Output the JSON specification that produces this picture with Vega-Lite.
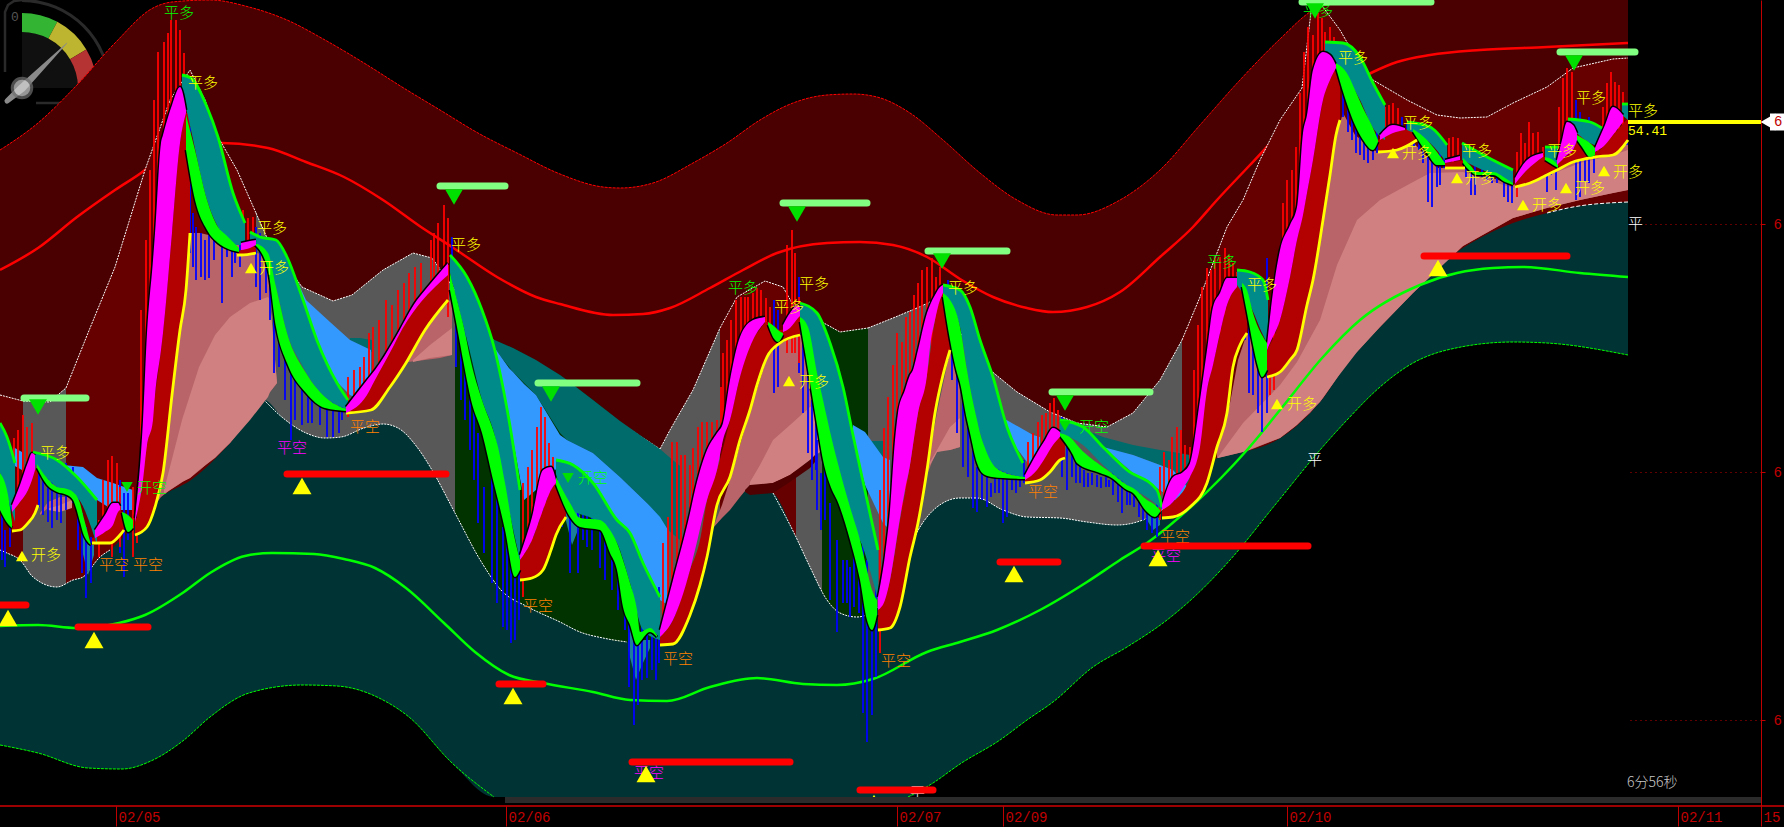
{"$schema":"https://vega.github.io/schema/vega-lite/v6.json","width":1761,"height":806,"autosize":{"type":"none"},"padding":{"left":0,"top":0,"right":23,"bottom":21},"background":"#000000","config":{"view":{"stroke":null},"text":{"font":"Noto Sans CJK SC","fontSize":15,"fontWeight":300,"align":"left","baseline":"middle"}},
"datasets":{
"outerTop":[{"x":0,"y":150},{"x":38,"y":123},{"x":77,"y":85},{"x":115,"y":43},{"x":153,"y":8},{"x":172,"y":2},{"x":210,"y":0},{"x":249,"y":7},{"x":287,"y":20},{"x":325,"y":40},{"x":364,"y":63},{"x":402,"y":87},{"x":440,"y":110},{"x":478,"y":133},{"x":517,"y":153},{"x":560,"y":174},{"x":603,"y":187},{"x":620,"y":188},{"x":653,"y":183},{"x":693,"y":163},{"x":727,"y":143},{"x":760,"y":120},{"x":793,"y":103},{"x":827,"y":95},{"x":853,"y":94},{"x":877,"y":97},{"x":910,"y":113},{"x":943,"y":140},{"x":980,"y":173},{"x":1017,"y":200},{"x":1057,"y":215},{"x":1077,"y":215},{"x":1120,"y":200},{"x":1160,"y":170},{"x":1200,"y":125},{"x":1240,"y":80},{"x":1280,"y":39},{"x":1313,"y":10},{"x":1340,"y":0},{"x":1628,"y":0}],
"midRed":[{"x":0,"y":270},{"x":38,"y":248},{"x":77,"y":217},{"x":115,"y":190},{"x":145,"y":170},{"x":157,"y":160},{"x":190,"y":146},{"x":222,"y":143},{"x":268,"y":148},{"x":306,"y":162},{"x":344,"y":177},{"x":383,"y":200},{"x":421,"y":227},{"x":452,"y":247},{"x":497,"y":277},{"x":536,"y":297},{"x":560,"y":304},{"x":613,"y":315},{"x":643,"y":314},{"x":670,"y":308},{"x":710,"y":288},{"x":743,"y":270},{"x":777,"y":253},{"x":827,"y":243},{"x":860,"y":242},{"x":893,"y":245},{"x":927,"y":257},{"x":960,"y":279},{"x":993,"y":297},{"x":1027,"y":308},{"x":1053,"y":312},{"x":1087,"y":307},{"x":1120,"y":292},{"x":1160,"y":257},{"x":1193,"y":227},{"x":1217,"y":200},{"x":1250,"y":165},{"x":1280,"y":133},{"x":1300,"y":113},{"x":1340,"y":90},{"x":1373,"y":72},{"x":1397,"y":62},{"x":1430,"y":55},{"x":1480,"y":50},{"x":1547,"y":47},{"x":1628,"y":43}],
"cloud":[{"s":1,"r":"red","x":0,"y":395},{"s":1,"r":"red","x":23,"y":401},{"s":2,"r":"gray","x":23,"y":401},{"s":2,"r":"gray","x":50,"y":402},{"s":2,"r":"gray","x":60,"y":393},{"s":2,"r":"gray","x":66,"y":388},{"s":3,"r":"red","x":66,"y":388},{"s":3,"r":"red","x":88,"y":333},{"s":3,"r":"red","x":115,"y":267},{"s":3,"r":"red","x":145,"y":170},{"s":3,"r":"red","x":170,"y":100},{"s":3,"r":"red","x":190,"y":70},{"s":3,"r":"red","x":205,"y":100},{"s":3,"r":"red","x":218,"y":137},{"s":3,"r":"red","x":237,"y":170},{"s":3,"r":"red","x":256,"y":213},{"s":4,"r":"gray","x":256,"y":213},{"s":4,"r":"gray","x":268,"y":240},{"s":4,"r":"gray","x":302,"y":287},{"s":4,"r":"gray","x":333,"y":301},{"s":4,"r":"gray","x":352,"y":295},{"s":4,"r":"gray","x":383,"y":270},{"s":4,"r":"gray","x":413,"y":253},{"s":4,"r":"gray","x":432,"y":258},{"s":4,"r":"gray","x":455,"y":290},{"s":5,"r":"green","x":455,"y":290},{"s":5,"r":"green","x":470,"y":310},{"s":5,"r":"green","x":490,"y":338},{"s":5,"r":"green","x":517,"y":350},{"s":5,"r":"green","x":560,"y":375},{"s":5,"r":"green","x":593,"y":400},{"s":5,"r":"green","x":627,"y":427},{"s":5,"r":"green","x":660,"y":449},{"s":6,"r":"gray","x":660,"y":449},{"s":6,"r":"gray","x":670,"y":430},{"s":6,"r":"gray","x":693,"y":390},{"s":6,"r":"gray","x":720,"y":328},{"s":7,"r":"red","x":720,"y":328},{"s":7,"r":"red","x":737,"y":297},{"s":7,"r":"red","x":765,"y":281},{"s":7,"r":"red","x":783,"y":287},{"s":7,"r":"red","x":796,"y":310},{"s":8,"r":"gray","x":796,"y":310},{"s":8,"r":"gray","x":822,"y":322},{"s":9,"r":"green","x":822,"y":322},{"s":9,"r":"green","x":840,"y":332},{"s":9,"r":"green","x":868,"y":328},{"s":10,"r":"gray","x":868,"y":328},{"s":10,"r":"gray","x":893,"y":318},{"s":10,"r":"gray","x":917,"y":308},{"s":10,"r":"gray","x":930,"y":302},{"s":10,"r":"gray","x":950,"y":320},{"s":10,"r":"gray","x":970,"y":345},{"s":10,"r":"gray","x":990,"y":370},{"s":10,"r":"gray","x":1017,"y":392},{"s":10,"r":"gray","x":1050,"y":412},{"s":10,"r":"gray","x":1077,"y":423},{"s":10,"r":"gray","x":1107,"y":427},{"s":10,"r":"gray","x":1133,"y":413},{"s":10,"r":"gray","x":1160,"y":380},{"s":10,"r":"gray","x":1182,"y":340},{"s":11,"r":"red","x":1182,"y":340},{"s":11,"r":"red","x":1200,"y":297},{"s":11,"r":"red","x":1227,"y":227},{"s":11,"r":"red","x":1243,"y":200},{"s":11,"r":"red","x":1260,"y":160},{"s":11,"r":"red","x":1280,"y":120},{"s":11,"r":"red","x":1302,"y":88},{"s":11,"r":"red","x":1311,"y":12},{"s":11,"r":"red","x":1320,"y":3},{"s":11,"r":"red","x":1340,"y":30},{"s":11,"r":"red","x":1360,"y":65},{"s":11,"r":"red","x":1373,"y":80},{"s":11,"r":"red","x":1407,"y":100},{"s":11,"r":"red","x":1437,"y":115},{"s":11,"r":"red","x":1460,"y":118},{"s":11,"r":"red","x":1487,"y":117},{"s":11,"r":"red","x":1513,"y":103},{"s":11,"r":"red","x":1547,"y":87},{"s":11,"r":"red","x":1573,"y":68},{"s":11,"r":"red","x":1613,"y":59},{"s":11,"r":"red","x":1628,"y":58}],
"lowerWhite":[{"x":0,"y":550},{"x":7,"y":553},{"x":20,"y":560},{"x":33,"y":577},{"x":57,"y":587},{"x":73,"y":580},{"x":83,"y":577},{"x":100,"y":557},{"x":110,"y":550},{"x":130,"y":530},{"x":161,"y":497},{"x":191,"y":480},{"x":230,"y":443},{"x":264,"y":400},{"x":283,"y":418},{"x":306,"y":433},{"x":325,"y":438},{"x":341,"y":437},{"x":364,"y":428},{"x":383,"y":424},{"x":398,"y":428},{"x":417,"y":447},{"x":432,"y":470},{"x":455,"y":513},{"x":482,"y":563},{"x":501,"y":590},{"x":528,"y":607},{"x":560,"y":622},{"x":580,"y":632},{"x":603,"y":638},{"x":627,"y":642},{"x":650,"y":640},{"x":670,"y":620},{"x":690,"y":570},{"x":713,"y":528},{"x":740,"y":497},{"x":750,"y":485},{"x":773,"y":493},{"x":795,"y":535},{"x":810,"y":567},{"x":827,"y":600},{"x":840,"y":613},{"x":857,"y":617},{"x":880,"y":605},{"x":900,"y":570},{"x":920,"y":527},{"x":937,"y":507},{"x":960,"y":498},{"x":977,"y":498},{"x":1003,"y":510},{"x":1027,"y":517},{"x":1060,"y":518},{"x":1087,"y":522},{"x":1117,"y":525},{"x":1137,"y":522},{"x":1157,"y":513},{"x":1185,"y":490},{"x":1217,"y":458},{"x":1243,"y":452},{"x":1277,"y":440},{"x":1300,"y":423},{"x":1320,"y":402},{"x":1347,"y":363},{"x":1380,"y":327},{"x":1413,"y":293},{"x":1457,"y":252},{"x":1480,"y":238},{"x":1513,"y":223},{"x":1547,"y":213},{"x":1573,"y":207},{"x":1628,"y":202}],
"outerLow":[{"x":0,"y":745},{"x":38,"y":753},{"x":88,"y":768},{"x":122,"y":769},{"x":153,"y":760},{"x":184,"y":740},{"x":210,"y":717},{"x":249,"y":693},{"x":302,"y":685},{"x":337,"y":686},{"x":383,"y":700},{"x":409,"y":717},{"x":452,"y":763},{"x":494,"y":797},{"x":908,"y":797},{"x":933,"y":783},{"x":960,"y":764},{"x":1000,"y":740},{"x":1027,"y":720},{"x":1053,"y":702},{"x":1093,"y":667},{"x":1127,"y":647},{"x":1167,"y":620},{"x":1193,"y":598},{"x":1230,"y":560},{"x":1275,"y":505},{"x":1320,"y":450},{"x":1347,"y":420},{"x":1380,"y":387},{"x":1413,"y":363},{"x":1447,"y":350},{"x":1513,"y":342},{"x":1547,"y":343},{"x":1628,"y":355}],
"midGreen":[{"x":0,"y":626},{"x":38,"y":625},{"x":77,"y":628},{"x":119,"y":623},{"x":145,"y":615},{"x":184,"y":592},{"x":210,"y":573},{"x":245,"y":556},{"x":272,"y":553},{"x":314,"y":554},{"x":344,"y":559},{"x":375,"y":568},{"x":406,"y":588},{"x":444,"y":623},{"x":475,"y":652},{"x":509,"y":675},{"x":543,"y":683},{"x":593,"y":692},{"x":630,"y":700},{"x":667,"y":701},{"x":710,"y":687},{"x":757,"y":678},{"x":803,"y":684},{"x":837,"y":685},{"x":873,"y":679},{"x":927,"y":652},{"x":960,"y":642},{"x":997,"y":630},{"x":1040,"y":610},{"x":1087,"y":582},{"x":1120,"y":560},{"x":1147,"y":543},{"x":1193,"y":505},{"x":1247,"y":450},{"x":1280,"y":410},{"x":1323,"y":357},{"x":1360,"y":320},{"x":1420,"y":285},{"x":1457,"y":273},{"x":1493,"y":268},{"x":1523,"y":267},{"x":1580,"y":273},{"x":1628,"y":277}],
"pinkDark":[{"s":1,"x":40,"y":513,"y2":515},{"s":1,"x":48,"y":502,"y2":508},{"s":1,"x":60,"y":497,"y2":505},{"s":1,"x":72,"y":497,"y2":503},
{"s":2,"x":155,"y":505,"y2":505},{"s":2,"x":161,"y":475,"y2":497},{"s":2,"x":170,"y":420,"y2":490},{"s":2,"x":178,"y":340,"y2":485},{"s":2,"x":184,"y":300,"y2":481},{"s":2,"x":190,"y":233,"y2":478},{"s":2,"x":200,"y":233,"y2":470},{"s":2,"x":230,"y":240,"y2":443},{"s":2,"x":256,"y":253,"y2":410},{"s":2,"x":268,"y":255,"y2":395},{"s":2,"x":270,"y":300,"y2":392},{"s":2,"x":277,"y":383,"y2":383},
{"s":3,"x":408,"y":358,"y2":362},{"s":3,"x":425,"y":330,"y2":360},{"s":3,"x":440,"y":312,"y2":358},{"s":3,"x":452,"y":298,"y2":355},
{"s":4,"x":713,"y":528,"y2":528},{"s":4,"x":722,"y":505,"y2":518},{"s":4,"x":730,"y":480,"y2":510},{"s":4,"x":740,"y":445,"y2":497},{"s":4,"x":750,"y":410,"y2":485},{"s":4,"x":760,"y":380,"y2":484},{"s":4,"x":767,"y":357,"y2":483},{"s":4,"x":780,"y":343,"y2":480},{"s":4,"x":800,"y":335,"y2":468},{"s":4,"x":815,"y":335,"y2":455},
{"s":5,"x":925,"y":480,"y2":480},{"s":5,"x":932,"y":440,"y2":462},{"s":5,"x":937,"y":413,"y2":452},{"s":5,"x":945,"y":375,"y2":450},{"s":5,"x":950,"y":350,"y2":450},{"s":5,"x":960,"y":345,"y2":447},
{"s":6,"x":1217,"y":447,"y2":458},{"s":6,"x":1230,"y":403,"y2":455},{"s":6,"x":1238,"y":360,"y2":453},{"s":6,"x":1247,"y":333,"y2":451},{"s":6,"x":1255,"y":345,"y2":448},{"s":6,"x":1265,"y":377,"y2":444},{"s":6,"x":1280,"y":373,"y2":438},{"s":6,"x":1293,"y":355,"y2":428},{"s":6,"x":1310,"y":290,"y2":413},{"s":6,"x":1323,"y":220,"y2":398},{"s":6,"x":1337,"y":133,"y2":378},{"s":6,"x":1343,"y":113,"y2":368},{"s":6,"x":1355,"y":135,"y2":354},{"s":6,"x":1377,"y":152,"y2":330},{"s":6,"x":1413,"y":142,"y2":293},{"s":6,"x":1437,"y":168,"y2":270},{"s":6,"x":1463,"y":168,"y2":246},{"s":6,"x":1513,"y":185,"y2":218},{"s":6,"x":1547,"y":173,"y2":208},{"s":6,"x":1580,"y":160,"y2":200},{"s":6,"x":1613,"y":152,"y2":193},{"s":6,"x":1628,"y":140,"y2":190}],
"pinkLight":[{"s":1,"x":164,"y":490,"y2":494},{"s":1,"x":182,"y":420,"y2":482},{"s":1,"x":190,"y":395,"y2":478},{"s":1,"x":199,"y":367,"y2":470},{"s":1,"x":215,"y":335,"y2":458},{"s":1,"x":230,"y":317,"y2":443},{"s":1,"x":250,"y":303,"y2":420},{"s":1,"x":268,"y":297,"y2":397},{"s":1,"x":270,"y":300,"y2":392},{"s":1,"x":277,"y":383,"y2":383},
{"s":2,"x":413,"y":360,"y2":362},{"s":2,"x":430,"y":345,"y2":358},{"s":2,"x":452,"y":328,"y2":355},
{"s":3,"x":750,"y":482,"y2":485},{"s":3,"x":760,"y":465,"y2":485},{"s":3,"x":773,"y":440,"y2":483},{"s":3,"x":790,"y":425,"y2":475},{"s":3,"x":810,"y":407,"y2":460},{"s":3,"x":820,"y":400,"y2":452},
{"s":4,"x":930,"y":462,"y2":465},{"s":4,"x":937,"y":450,"y2":452},{"s":4,"x":950,"y":427,"y2":450},{"s":4,"x":960,"y":418,"y2":447},
{"s":5,"x":48,"y":508,"y2":510},{"s":5,"x":60,"y":505,"y2":512},{"s":5,"x":72,"y":500,"y2":508},
{"s":6,"x":1218,"y":457,"y2":458},{"s":6,"x":1243,"y":423,"y2":452},{"s":6,"x":1280,"y":385,"y2":438},{"s":6,"x":1297,"y":362,"y2":425},{"s":6,"x":1320,"y":320,"y2":402},{"s":6,"x":1337,"y":265,"y2":378},{"s":6,"x":1357,"y":220,"y2":352},{"s":6,"x":1380,"y":200,"y2":327},{"s":6,"x":1413,"y":182,"y2":293},{"s":6,"x":1430,"y":173,"y2":277},{"s":6,"x":1463,"y":172,"y2":246},{"s":6,"x":1513,"y":188,"y2":218},{"s":6,"x":1547,"y":176,"y2":208},{"s":6,"x":1580,"y":163,"y2":200},{"s":6,"x":1613,"y":155,"y2":193},{"s":6,"x":1628,"y":150,"y2":190}],
"wedge":[{"x":745,"y":490,"y2":492},{"x":750,"y":485,"y2":495},{"x":773,"y":483,"y2":493},{"x":790,"y":475,"y2":482},{"x":810,"y":460,"y2":468},{"x":815,"y":455,"y2":462}],
"darkTeal":[{"s":1,"x":350,"y":338,"y2":340},{"s":1,"x":360,"y":338,"y2":345},{"s":1,"x":372,"y":340,"y2":352},
{"s":2,"x":490,"y":338,"y2":343},{"s":2,"x":513,"y":348,"y2":372},{"s":2,"x":536,"y":360,"y2":395},{"s":2,"x":560,"y":375,"y2":433},{"s":2,"x":567,"y":380,"y2":440},{"s":2,"x":593,"y":400,"y2":453},{"s":2,"x":620,"y":421,"y2":477},{"s":2,"x":647,"y":440,"y2":503},{"s":2,"x":660,"y":449,"y2":520},{"s":2,"x":668,"y":456,"y2":530},{"s":2,"x":680,"y":466,"y2":540},
{"s":3,"x":867,"y":441,"y2":445},{"s":3,"x":875,"y":441,"y2":455},{"s":3,"x":885,"y":441,"y2":465},
{"s":4,"x":1063,"y":423,"y2":427},{"s":4,"x":1093,"y":433,"y2":445},{"s":4,"x":1103,"y":437,"y2":448},{"s":4,"x":1133,"y":445,"y2":455},{"s":4,"x":1160,"y":450,"y2":465},{"s":4,"x":1173,"y":452,"y2":470},{"s":4,"x":1190,"y":455,"y2":490}],
"blue":[{"s":1,"x":13,"y":447,"y2":465},{"s":1,"x":22,"y":452,"y2":470},
{"s":2,"x":63,"y":465,"y2":465},{"s":2,"x":83,"y":467,"y2":483},{"s":2,"x":97,"y":478,"y2":500},{"s":2,"x":113,"y":483,"y2":510},{"s":2,"x":133,"y":490,"y2":510},
{"s":3,"x":298,"y":283,"y2":284},{"s":3,"x":306,"y":300,"y2":310},{"s":3,"x":330,"y":322,"y2":375},{"s":3,"x":350,"y":340,"y2":395},{"s":3,"x":371,"y":350,"y2":405},
{"s":4,"x":494,"y":347,"y2":347},{"s":4,"x":509,"y":368,"y2":420},{"s":4,"x":513,"y":372,"y2":440},{"s":4,"x":524,"y":384,"y2":500},{"s":4,"x":536,"y":395,"y2":490},{"s":4,"x":560,"y":435,"y2":465},{"s":4,"x":567,"y":440,"y2":465},{"s":4,"x":593,"y":453,"y2":485},{"s":4,"x":620,"y":477,"y2":525},{"s":4,"x":647,"y":503,"y2":575},{"s":4,"x":660,"y":517,"y2":600},{"s":4,"x":668,"y":530,"y2":605},
{"s":5,"x":853,"y":425,"y2":440},{"s":5,"x":865,"y":432,"y2":485},{"s":5,"x":883,"y":457,"y2":523},{"s":5,"x":890,"y":460,"y2":530},
{"s":6,"x":1003,"y":418,"y2":430},{"s":6,"x":1033,"y":435,"y2":470},{"s":6,"x":1040,"y":437,"y2":455},
{"s":7,"x":1103,"y":447,"y2":447},{"s":7,"x":1133,"y":455,"y2":473},{"s":7,"x":1160,"y":465,"y2":490},{"s":7,"x":1173,"y":470,"y2":500},{"s":7,"x":1190,"y":490,"y2":500}],
"shadow":[{"s":1,"x":628,"y":620,"y2":650},{"s":1,"x":636,"y":640,"y2":680},{"s":1,"x":642,"y":640,"y2":665},{"s":1,"x":650,"y":640,"y2":648},{"s":2,"x":82,"y":530,"y2":550},{"s":2,"x":88,"y":545,"y2":575},{"s":2,"x":94,"y":545,"y2":555},{"s":3,"x":1147,"y":510,"y2":520},{"s":3,"x":1153,"y":517,"y2":530},{"s":3,"x":1160,"y":518,"y2":525},{"s":4,"x":562,"y":480,"y2":505},{"s":4,"x":572,"y":505,"y2":545},{"s":4,"x":580,"y":515,"y2":525}],
"darkRed":[{"s":1,"x":12,"y":512,"y2":531},{"s":1,"x":20,"y":502,"y2":530},{"s":1,"x":28,"y":490,"y2":523},{"s":1,"x":35,"y":470,"y2":513},{"s":1,"x":38,"y":468,"y2":505},
{"s":2,"x":92,"y":538,"y2":543},{"s":2,"x":110,"y":527,"y2":543},{"s":2,"x":120,"y":510,"y2":535},{"s":2,"x":124,"y":520,"y2":530},
{"s":3,"x":135,"y":522,"y2":535},{"s":3,"x":147,"y":445,"y2":527},{"s":3,"x":155,"y":395,"y2":507},{"s":3,"x":163,"y":333,"y2":473},{"s":3,"x":172,"y":233,"y2":395},{"s":3,"x":180,"y":143,"y2":330},{"s":3,"x":186,"y":113,"y2":290},{"s":3,"x":190,"y":113,"y2":233},
{"s":4,"x":237,"y":252,"y2":255},{"s":4,"x":241,"y":250,"y2":255},{"s":4,"x":256,"y":245,"y2":253},
{"s":5,"x":346,"y":413,"y2":413},{"s":5,"x":371,"y":385,"y2":410},{"s":5,"x":390,"y":345,"y2":387},{"s":5,"x":406,"y":318,"y2":363},{"s":5,"x":425,"y":290,"y2":330},{"s":5,"x":448,"y":275,"y2":300},
{"s":6,"x":520,"y":560,"y2":580},{"s":6,"x":532,"y":540,"y2":578},{"s":6,"x":543,"y":510,"y2":570},{"s":6,"x":551,"y":490,"y2":550},{"s":6,"x":556,"y":483,"y2":535},{"s":6,"x":566,"y":490,"y2":517},
{"s":7,"x":660,"y":637,"y2":645},{"s":7,"x":673,"y":620,"y2":644},{"s":7,"x":690,"y":570,"y2":615},{"s":7,"x":700,"y":540,"y2":585},{"s":7,"x":707,"y":500,"y2":557},{"s":7,"x":717,"y":470,"y2":505},{"s":7,"x":730,"y":420,"y2":477},{"s":7,"x":740,"y":377,"y2":440},{"s":7,"x":750,"y":340,"y2":410},{"s":7,"x":757,"y":333,"y2":385},{"s":7,"x":767,"y":322,"y2":357},{"s":7,"x":780,"y":330,"y2":343},{"s":7,"x":800,"y":316,"y2":335},
{"s":8,"x":878,"y":610,"y2":630},{"s":8,"x":890,"y":580,"y2":628},{"s":8,"x":900,"y":520,"y2":607},{"s":8,"x":910,"y":465,"y2":557},{"s":8,"x":918,"y":413,"y2":523},{"s":8,"x":927,"y":375,"y2":470},{"s":8,"x":935,"y":320,"y2":413},{"s":8,"x":943,"y":293,"y2":375},{"s":8,"x":950,"y":293,"y2":350},
{"s":9,"x":1025,"y":480,"y2":483},{"s":9,"x":1040,"y":463,"y2":480},{"s":9,"x":1050,"y":445,"y2":472},{"s":9,"x":1060,"y":437,"y2":460},{"s":9,"x":1065,"y":445,"y2":458},
{"s":10,"x":1162,"y":510,"y2":518},{"s":10,"x":1173,"y":502,"y2":517},{"s":10,"x":1190,"y":477,"y2":507},{"s":10,"x":1207,"y":390,"y2":483},{"s":10,"x":1217,"y":347,"y2":447},{"s":10,"x":1227,"y":305,"y2":413},{"s":10,"x":1233,"y":290,"y2":367},{"s":10,"x":1240,"y":280,"y2":345},{"s":10,"x":1247,"y":300,"y2":333},
{"s":11,"x":1267,"y":350,"y2":377},{"s":11,"x":1280,"y":320,"y2":372},{"s":11,"x":1290,"y":277,"y2":360},{"s":11,"x":1297,"y":240,"y2":350},{"s":11,"x":1307,"y":193,"y2":305},{"s":11,"x":1313,"y":160,"y2":280},{"s":11,"x":1323,"y":100,"y2":220},{"s":11,"x":1330,"y":75,"y2":175},{"s":11,"x":1336,"y":65,"y2":135},{"s":11,"x":1340,"y":65,"y2":120},
{"s":12,"x":1378,"y":140,"y2":152},{"s":12,"x":1397,"y":131,"y2":150},{"s":12,"x":1417,"y":128,"y2":140},
{"s":13,"x":1445,"y":163,"y2":168},{"s":13,"x":1465,"y":160,"y2":168},
{"s":14,"x":1515,"y":184,"y2":187},{"s":14,"x":1527,"y":170,"y2":184},{"s":14,"x":1543,"y":157,"y2":177},{"s":14,"x":1557,"y":160,"y2":170},{"s":14,"x":1573,"y":150,"y2":162},{"s":14,"x":1580,"y":135,"y2":160},{"s":14,"x":1595,"y":152,"y2":157},{"s":14,"x":1613,"y":135,"y2":155},{"s":14,"x":1628,"y":118,"y2":140}],
"tealFill":[{"s":1,"x":0,"y":423,"y2":473},{"s":1,"x":7,"y":437,"y2":495},{"s":1,"x":15,"y":463,"y2":522},
{"s":2,"x":33,"y":452,"y2":462},{"s":2,"x":57,"y":460,"y2":487},{"s":2,"x":77,"y":477,"y2":497},{"s":2,"x":97,"y":500,"y2":545},
{"s":3,"x":182,"y":75,"y2":90},{"s":3,"x":191,"y":78,"y2":130},{"s":3,"x":207,"y":107,"y2":200},{"s":3,"x":218,"y":137,"y2":227},{"s":3,"x":233,"y":193,"y2":245},{"s":3,"x":245,"y":223,"y2":245},
{"s":4,"x":250,"y":232,"y2":240},{"s":4,"x":260,"y":237,"y2":247},{"s":4,"x":276,"y":240,"y2":287},{"s":4,"x":287,"y":257,"y2":333},{"s":4,"x":302,"y":297,"y2":365},{"s":4,"x":318,"y":343,"y2":390},{"s":4,"x":337,"y":383,"y2":405},{"s":4,"x":348,"y":400,"y2":409},
{"s":5,"x":450,"y":255,"y2":273},{"s":5,"x":467,"y":277,"y2":340},{"s":5,"x":482,"y":310,"y2":400},{"s":5,"x":494,"y":347,"y2":433},{"s":5,"x":509,"y":420,"y2":510},{"s":5,"x":520,"y":490,"y2":560},
{"s":6,"x":556,"y":460,"y2":477},{"s":6,"x":573,"y":465,"y2":510},{"s":6,"x":593,"y":483,"y2":519},{"s":6,"x":617,"y":520,"y2":543},{"s":6,"x":630,"y":533,"y2":583},{"s":6,"x":643,"y":563,"y2":630},{"s":6,"x":660,"y":597,"y2":640},
{"s":7,"x":800,"y":303,"y2":317},{"s":7,"x":817,"y":313,"y2":373},{"s":7,"x":830,"y":343,"y2":440},{"s":7,"x":843,"y":387,"y2":485},{"s":7,"x":853,"y":435,"y2":525},{"s":7,"x":862,"y":477,"y2":545},{"s":7,"x":878,"y":550,"y2":600},
{"s":8,"x":943,"y":285,"y2":293},{"s":8,"x":960,"y":290,"y2":327},{"s":8,"x":970,"y":307,"y2":387},{"s":8,"x":980,"y":340,"y2":433},{"s":8,"x":993,"y":377,"y2":465},{"s":8,"x":1007,"y":427,"y2":473},{"s":8,"x":1023,"y":463,"y2":477},
{"s":9,"x":1060,"y":420,"y2":433},{"s":9,"x":1083,"y":427,"y2":445},{"s":9,"x":1103,"y":447,"y2":465},{"s":9,"x":1127,"y":470,"y2":485},{"s":9,"x":1157,"y":490,"y2":505},{"s":9,"x":1162,"y":507,"y2":510},
{"s":10,"x":1237,"y":270,"y2":285},{"s":10,"x":1250,"y":272,"y2":305},{"s":10,"x":1263,"y":280,"y2":335},{"s":10,"x":1268,"y":300,"y2":345},
{"s":11,"x":1325,"y":42,"y2":55},{"s":11,"x":1343,"y":43,"y2":72},{"s":11,"x":1360,"y":57,"y2":100},{"s":11,"x":1373,"y":83,"y2":128},{"s":11,"x":1385,"y":105,"y2":140},
{"s":12,"x":1407,"y":122,"y2":130},{"s":12,"x":1430,"y":127,"y2":143},{"s":12,"x":1447,"y":145,"y2":163},
{"s":13,"x":1462,"y":143,"y2":160},{"s":13,"x":1487,"y":157,"y2":172},{"s":13,"x":1513,"y":170,"y2":183},
{"s":14,"x":1545,"y":147,"y2":157},{"s":14,"x":1558,"y":147,"y2":165},
{"s":15,"x":1568,"y":119,"y2":125},{"s":15,"x":1590,"y":122,"y2":143},{"s":15,"x":1602,"y":128,"y2":148},
{"s":16,"x":1622,"y":104,"y2":115},{"s":16,"x":1628,"y":104,"y2":120}],
"lime":[{"s":1,"x":0,"y":473,"y2":510},{"s":1,"x":8,"y":495,"y2":524},{"s":1,"x":12,"y":522,"y2":528},
{"s":2,"x":37,"y":464,"y2":468},{"s":2,"x":47,"y":478,"y2":485},{"s":2,"x":57,"y":487,"y2":492},{"s":2,"x":67,"y":489,"y2":495},{"s":2,"x":73,"y":492,"y2":500},{"s":2,"x":80,"y":503,"y2":522},{"s":2,"x":83,"y":515,"y2":533},{"s":2,"x":87,"y":530,"y2":541},{"s":2,"x":91,"y":545,"y2":545},
{"s":3,"x":122,"y":512,"y2":513},{"s":3,"x":128,"y":515,"y2":532},{"s":3,"x":133,"y":520,"y2":528},
{"s":4,"x":186,"y":115,"y2":150},{"s":4,"x":195,"y":150,"y2":200},{"s":4,"x":207,"y":200,"y2":230},{"s":4,"x":218,"y":227,"y2":243},{"s":4,"x":226,"y":235,"y2":248},{"s":4,"x":239,"y":248,"y2":252},
{"s":5,"x":255,"y":243,"y2":245},{"s":5,"x":268,"y":253,"y2":270},{"s":5,"x":276,"y":287,"y2":327},{"s":5,"x":287,"y":333,"y2":363},{"s":5,"x":306,"y":373,"y2":393},{"s":5,"x":325,"y":397,"y2":408},{"s":5,"x":346,"y":409,"y2":411},
{"s":6,"x":450,"y":273,"y2":290},{"s":6,"x":457,"y":300,"y2":327},{"s":6,"x":464,"y":328,"y2":365},{"s":6,"x":471,"y":362,"y2":400},{"s":6,"x":482,"y":400,"y2":433},{"s":6,"x":494,"y":433,"y2":484},{"s":6,"x":498,"y":447,"y2":500},{"s":6,"x":505,"y":483,"y2":530},{"s":6,"x":515,"y":540,"y2":577},{"s":6,"x":520,"y":560,"y2":570},
{"s":7,"x":556,"y":477,"y2":485},{"s":7,"x":570,"y":503,"y2":517},{"s":7,"x":580,"y":518,"y2":527},{"s":7,"x":600,"y":520,"y2":530},{"s":7,"x":610,"y":530,"y2":553},{"s":7,"x":617,"y":543,"y2":570},{"s":7,"x":623,"y":560,"y2":607},{"s":7,"x":630,"y":583,"y2":625},{"s":7,"x":637,"y":610,"y2":645},{"s":7,"x":640,"y":632,"y2":642},{"s":7,"x":650,"y":628,"y2":632},{"s":7,"x":657,"y":635,"y2":637},
{"s":8,"x":768,"y":322,"y2":325},{"s":8,"x":775,"y":327,"y2":340},{"s":8,"x":778,"y":330,"y2":342},{"s":8,"x":783,"y":333,"y2":335},
{"s":9,"x":800,"y":317,"y2":322},{"s":9,"x":808,"y":327,"y2":370},{"s":9,"x":817,"y":373,"y2":425},{"s":9,"x":823,"y":400,"y2":460},{"s":9,"x":832,"y":440,"y2":490},{"s":9,"x":837,"y":460,"y2":500},{"s":9,"x":850,"y":507,"y2":540},{"s":9,"x":860,"y":540,"y2":580},{"s":9,"x":867,"y":570,"y2":620},{"s":9,"x":872,"y":590,"y2":630},{"s":9,"x":877,"y":600,"y2":615},
{"s":10,"x":943,"y":293,"y2":297},{"s":10,"x":950,"y":300,"y2":340},{"s":10,"x":957,"y":315,"y2":373},{"s":10,"x":960,"y":327,"y2":383},{"s":10,"x":967,"y":370,"y2":420},{"s":10,"x":970,"y":387,"y2":433},{"s":10,"x":977,"y":420,"y2":463},{"s":10,"x":980,"y":433,"y2":470},{"s":10,"x":985,"y":448,"y2":475},{"s":10,"x":992,"y":463,"y2":477},{"s":10,"x":1003,"y":472,"y2":478},{"s":10,"x":1025,"y":477,"y2":479},
{"s":11,"x":1060,"y":433,"y2":436},{"s":11,"x":1073,"y":440,"y2":455},{"s":11,"x":1077,"y":445,"y2":463},{"s":11,"x":1100,"y":465,"y2":473},{"s":11,"x":1110,"y":472,"y2":477},{"s":11,"x":1127,"y":485,"y2":490},{"s":11,"x":1133,"y":488,"y2":493},{"s":11,"x":1147,"y":500,"y2":512},{"s":11,"x":1155,"y":505,"y2":517},{"s":11,"x":1160,"y":510,"y2":512},
{"s":12,"x":1242,"y":283,"y2":287},{"s":12,"x":1247,"y":290,"y2":313},{"s":12,"x":1253,"y":313,"y2":345},{"s":12,"x":1258,"y":327,"y2":367},{"s":12,"x":1262,"y":335,"y2":377},{"s":12,"x":1267,"y":343,"y2":370},
{"s":13,"x":1336,"y":63,"y2":68},{"s":13,"x":1348,"y":75,"y2":107},{"s":13,"x":1355,"y":90,"y2":125},{"s":13,"x":1363,"y":108,"y2":140},{"s":13,"x":1373,"y":128,"y2":150},{"s":13,"x":1378,"y":140,"y2":142},
{"s":14,"x":1413,"y":129,"y2":132},{"s":14,"x":1427,"y":140,"y2":153},{"s":14,"x":1437,"y":152,"y2":165},{"s":14,"x":1445,"y":163,"y2":165},
{"s":15,"x":1463,"y":158,"y2":163},{"s":15,"x":1470,"y":165,"y2":171},{"s":15,"x":1477,"y":172,"y2":175},{"s":15,"x":1493,"y":172,"y2":175},{"s":15,"x":1505,"y":178,"y2":182},{"s":15,"x":1513,"y":183,"y2":185},
{"s":16,"x":1545,"y":157,"y2":160},{"s":16,"x":1553,"y":160,"y2":165},{"s":16,"x":1558,"y":165,"y2":168},
{"s":17,"x":1577,"y":135,"y2":140},{"s":17,"x":1582,"y":138,"y2":147},{"s":17,"x":1590,"y":143,"y2":157},{"s":17,"x":1595,"y":148,"y2":155}],
"magenta":[{"s":1,"x":12,"y":505,"y2":512},{"s":1,"x":20,"y":485,"y2":502},{"s":1,"x":28,"y":462,"y2":490},{"s":1,"x":32,"y":453,"y2":480},{"s":1,"x":35,"y":455,"y2":470},
{"s":2,"x":95,"y":530,"y2":538},{"s":2,"x":105,"y":515,"y2":532},{"s":2,"x":113,"y":503,"y2":525},{"s":2,"x":118,"y":503,"y2":512},{"s":2,"x":120,"y":506,"y2":510},
{"s":3,"x":135,"y":518,"y2":522},{"s":3,"x":143,"y":420,"y2":480},{"s":3,"x":147,"y":333,"y2":445},{"s":3,"x":153,"y":260,"y2":420},{"s":3,"x":155,"y":233,"y2":395},{"s":3,"x":161,"y":143,"y2":350},{"s":3,"x":163,"y":135,"y2":333},{"s":3,"x":172,"y":105,"y2":233},{"s":3,"x":180,"y":87,"y2":143},{"s":3,"x":186,"y":110,"y2":113},
{"s":4,"x":241,"y":243,"y2":250},{"s":4,"x":250,"y":241,"y2":248},{"s":4,"x":256,"y":240,"y2":245},
{"s":5,"x":346,"y":407,"y2":413},{"s":5,"x":367,"y":380,"y2":395},{"s":5,"x":375,"y":370,"y2":380},{"s":5,"x":394,"y":340,"y2":345},{"s":5,"x":398,"y":333,"y2":337},{"s":5,"x":417,"y":300,"y2":307},{"s":5,"x":421,"y":295,"y2":302},{"s":5,"x":448,"y":263,"y2":275},
{"s":6,"x":520,"y":555,"y2":560},{"s":6,"x":532,"y":517,"y2":540},{"s":6,"x":543,"y":470,"y2":510},{"s":6,"x":551,"y":467,"y2":490},{"s":6,"x":556,"y":480,"y2":483},
{"s":7,"x":660,"y":630,"y2":637},{"s":7,"x":673,"y":580,"y2":620},{"s":7,"x":690,"y":513,"y2":570},{"s":7,"x":695,"y":490,"y2":550},{"s":7,"x":707,"y":450,"y2":500},{"s":7,"x":717,"y":433,"y2":470},{"s":7,"x":723,"y":423,"y2":440},{"s":7,"x":730,"y":380,"y2":420},{"s":7,"x":740,"y":337,"y2":377},{"s":7,"x":753,"y":320,"y2":340},{"s":7,"x":765,"y":317,"y2":322},
{"s":8,"x":783,"y":325,"y2":332},{"s":8,"x":790,"y":313,"y2":328},{"s":8,"x":798,"y":305,"y2":318},{"s":8,"x":800,"y":308,"y2":316},
{"s":9,"x":878,"y":597,"y2":610},{"s":9,"x":885,"y":555,"y2":600},{"s":9,"x":890,"y":510,"y2":580},{"s":9,"x":895,"y":440,"y2":550},{"s":9,"x":898,"y":413,"y2":530},{"s":9,"x":905,"y":390,"y2":490},{"s":9,"x":910,"y":375,"y2":465},{"s":9,"x":913,"y":370,"y2":445},{"s":9,"x":918,"y":350,"y2":413},{"s":9,"x":927,"y":313,"y2":375},{"s":9,"x":930,"y":305,"y2":347},{"s":9,"x":935,"y":295,"y2":320},{"s":9,"x":940,"y":287,"y2":300},{"s":9,"x":943,"y":285,"y2":293},
{"s":10,"x":1025,"y":475,"y2":480},{"s":10,"x":1037,"y":453,"y2":470},{"s":10,"x":1045,"y":440,"y2":458},{"s":10,"x":1053,"y":428,"y2":445},{"s":10,"x":1060,"y":432,"y2":437},
{"s":11,"x":1162,"y":505,"y2":510},{"s":11,"x":1173,"y":477,"y2":502},{"s":11,"x":1183,"y":472,"y2":488},{"s":11,"x":1190,"y":463,"y2":477},{"s":11,"x":1200,"y":400,"y2":447},{"s":11,"x":1207,"y":350,"y2":390},{"s":11,"x":1213,"y":307,"y2":365},{"s":11,"x":1220,"y":293,"y2":333},{"s":11,"x":1227,"y":278,"y2":305},{"s":11,"x":1237,"y":278,"y2":287},
{"s":12,"x":1267,"y":345,"y2":350},{"s":12,"x":1270,"y":317,"y2":343},{"s":12,"x":1280,"y":250,"y2":320},{"s":12,"x":1290,"y":225,"y2":277},{"s":12,"x":1297,"y":207,"y2":240},{"s":12,"x":1303,"y":133,"y2":215},{"s":12,"x":1307,"y":115,"y2":193},{"s":12,"x":1313,"y":70,"y2":160},{"s":12,"x":1323,"y":52,"y2":100},{"s":12,"x":1330,"y":55,"y2":80},{"s":12,"x":1336,"y":65,"y2":68},
{"s":13,"x":1380,"y":135,"y2":140},{"s":13,"x":1393,"y":125,"y2":133},{"s":13,"x":1405,"y":128,"y2":130},
{"s":14,"x":1445,"y":160,"y2":163},{"s":14,"x":1460,"y":156,"y2":160},
{"s":15,"x":1515,"y":178,"y2":184},{"s":15,"x":1527,"y":160,"y2":170},{"s":15,"x":1543,"y":153,"y2":157},
{"s":16,"x":1557,"y":160,"y2":165},{"s":16,"x":1562,"y":140,"y2":160},{"s":16,"x":1567,"y":122,"y2":155},{"s":16,"x":1573,"y":125,"y2":150},{"s":16,"x":1577,"y":133,"y2":140},
{"s":17,"x":1595,"y":148,"y2":152},{"s":17,"x":1605,"y":125,"y2":145},{"s":17,"x":1613,"y":107,"y2":135},{"s":17,"x":1623,"y":115,"y2":122}],
"up":[{"x":14,"y":438,"y2":527},{"x":18,"y":430,"y2":517},{"x":23,"y":415,"y2":500},{"x":27,"y":427,"y2":490},{"x":32,"y":423,"y2":480},{"x":36,"y":480,"y2":500},{"x":99,"y":520,"y2":557},{"x":103,"y":480,"y2":537},{"x":108,"y":460,"y2":540},{"x":112,"y":456,"y2":557},{"x":117,"y":463,"y2":527},{"x":120,"y":487,"y2":547},{"x":133,"y":487,"y2":557},{"x":137,"y":497,"y2":543},{"x":141,"y":310,"y2":520},{"x":146,"y":240,"y2":480},{"x":150,"y":170,"y2":440},{"x":154,"y":100,"y2":400},{"x":158,"y":52,"y2":340},{"x":164,"y":42,"y2":270},{"x":168,"y":33,"y2":230},{"x":171,"y":20,"y2":200},{"x":176,"y":20,"y2":170},{"x":180,"y":30,"y2":130},{"x":184,"y":53,"y2":120},{"x":243,"y":210,"y2":243},{"x":248,"y":218,"y2":247},{"x":253,"y":217,"y2":247},{"x":348,"y":377,"y2":417},{"x":354,"y":370,"y2":413},{"x":360,"y":367,"y2":407},{"x":364,"y":357,"y2":400},{"x":369,"y":333,"y2":390},{"x":373,"y":327,"y2":377},{"x":379,"y":320,"y2":367},{"x":386,"y":300,"y2":353},{"x":392,"y":305,"y2":345},{"x":398,"y":290,"y2":337},{"x":404,"y":283,"y2":330},{"x":409,"y":273,"y2":320},{"x":415,"y":267,"y2":310},{"x":421,"y":263,"y2":303},{"x":431,"y":240,"y2":297},{"x":434,"y":233,"y2":293},{"x":438,"y":223,"y2":293},{"x":444,"y":205,"y2":300},{"x":448,"y":218,"y2":317},{"x":523,"y":483,"y2":597},{"x":528,"y":467,"y2":577},{"x":532,"y":450,"y2":567},{"x":537,"y":427,"y2":560},{"x":541,"y":407,"y2":533},{"x":545,"y":417,"y2":533},{"x":549,"y":443,"y2":500},{"x":553,"y":457,"y2":483},{"x":663,"y":543,"y2":643},{"x":668,"y":517,"y2":637},{"x":672,"y":442,"y2":607},{"x":677,"y":442,"y2":587},{"x":681,"y":455,"y2":580},{"x":685,"y":455,"y2":570},{"x":690,"y":465,"y2":560},{"x":693,"y":448,"y2":540},{"x":698,"y":427,"y2":525},{"x":702,"y":422,"y2":510},{"x":707,"y":422,"y2":495},{"x":712,"y":422,"y2":470},{"x":717,"y":420,"y2":465},{"x":721,"y":387,"y2":447},{"x":723,"y":353,"y2":433},{"x":727,"y":340,"y2":417},{"x":731,"y":320,"y2":397},{"x":736,"y":300,"y2":367},{"x":741,"y":297,"y2":357},{"x":745,"y":297,"y2":347},{"x":748,"y":297,"y2":337},{"x":753,"y":293,"y2":327},{"x":757,"y":288,"y2":320},{"x":761,"y":290,"y2":320},{"x":766,"y":298,"y2":343},{"x":770,"y":307,"y2":350},{"x":787,"y":245,"y2":353},{"x":792,"y":230,"y2":353},{"x":795,"y":253,"y2":353},{"x":799,"y":297,"y2":363},{"x":880,"y":490,"y2":653},{"x":884,"y":428,"y2":610},{"x":888,"y":397,"y2":590},{"x":893,"y":365,"y2":560},{"x":897,"y":333,"y2":530},{"x":902,"y":342,"y2":510},{"x":906,"y":317,"y2":490},{"x":910,"y":312,"y2":460},{"x":914,"y":295,"y2":440},{"x":918,"y":283,"y2":410},{"x":922,"y":270,"y2":390},{"x":927,"y":267,"y2":375},{"x":932,"y":258,"y2":350},{"x":936,"y":277,"y2":345},{"x":940,"y":267,"y2":347},{"x":1028,"y":442,"y2":477},{"x":1033,"y":433,"y2":480},{"x":1038,"y":422,"y2":467},{"x":1042,"y":415,"y2":457},{"x":1046,"y":413,"y2":453},{"x":1050,"y":403,"y2":450},{"x":1054,"y":398,"y2":447},{"x":1058,"y":410,"y2":440},{"x":1160,"y":467,"y2":520},{"x":1164,"y":452,"y2":513},{"x":1169,"y":460,"y2":507},{"x":1172,"y":437,"y2":483},{"x":1177,"y":427,"y2":477},{"x":1181,"y":430,"y2":473},{"x":1185,"y":445,"y2":477},{"x":1190,"y":447,"y2":470},{"x":1194,"y":370,"y2":467},{"x":1198,"y":325,"y2":433},{"x":1202,"y":287,"y2":400},{"x":1207,"y":268,"y2":373},{"x":1211,"y":270,"y2":367},{"x":1215,"y":258,"y2":343},{"x":1220,"y":257,"y2":333},{"x":1225,"y":248,"y2":317},{"x":1229,"y":255,"y2":300},{"x":1233,"y":263,"y2":293},{"x":1237,"y":272,"y2":300},{"x":1242,"y":283,"y2":320},{"x":1270,"y":350,"y2":395},{"x":1274,"y":330,"y2":390},{"x":1279,"y":270,"y2":340},{"x":1283,"y":203,"y2":300},{"x":1287,"y":180,"y2":280},{"x":1292,"y":170,"y2":260},{"x":1296,"y":147,"y2":235},{"x":1300,"y":93,"y2":200},{"x":1304,"y":52,"y2":167},{"x":1308,"y":27,"y2":140},{"x":1313,"y":35,"y2":133},{"x":1318,"y":13,"y2":93},{"x":1322,"y":18,"y2":83},{"x":1325,"y":32,"y2":67},{"x":1330,"y":27,"y2":65},{"x":1334,"y":37,"y2":63},{"x":1385,"y":107,"y2":137},{"x":1389,"y":105,"y2":137},{"x":1393,"y":103,"y2":133},{"x":1398,"y":108,"y2":137},{"x":1449,"y":138,"y2":157},{"x":1453,"y":137,"y2":163},{"x":1458,"y":138,"y2":157},{"x":1517,"y":152,"y2":197},{"x":1521,"y":133,"y2":173},{"x":1525,"y":143,"y2":170},{"x":1529,"y":122,"y2":167},{"x":1533,"y":133,"y2":157},{"x":1538,"y":132,"y2":157},{"x":1543,"y":147,"y2":157},{"x":1559,"y":107,"y2":170},{"x":1563,"y":78,"y2":163},{"x":1567,"y":68,"y2":150},{"x":1572,"y":72,"y2":143},{"x":1598,"y":130,"y2":152},{"x":1603,"y":107,"y2":147},{"x":1607,"y":83,"y2":140},{"x":1611,"y":72,"y2":140},{"x":1615,"y":82,"y2":133},{"x":1619,"y":85,"y2":130},{"x":1623,"y":92,"y2":128}],
"down":[{"x":2,"y":513,"y2":560},{"x":5,"y":530,"y2":567},{"x":10,"y":477,"y2":547},{"x":39,"y":453,"y2":507},{"x":43,"y":457,"y2":515},{"x":48,"y":460,"y2":522},{"x":52,"y":465,"y2":528},{"x":57,"y":463,"y2":520},{"x":61,"y":467,"y2":523},{"x":66,"y":463,"y2":510},{"x":73,"y":467,"y2":503},{"x":78,"y":480,"y2":550},{"x":82,"y":513,"y2":573},{"x":86,"y":527,"y2":598},{"x":91,"y":537,"y2":583},{"x":95,"y":497,"y2":543},{"x":120,"y":480,"y2":553},{"x":124,"y":493,"y2":577},{"x":128,"y":493,"y2":540},{"x":188,"y":90,"y2":133},{"x":190,"y":127,"y2":253},{"x":193,"y":213,"y2":267},{"x":196,"y":227,"y2":280},{"x":201,"y":233,"y2":277},{"x":205,"y":240,"y2":280},{"x":209,"y":233,"y2":278},{"x":214,"y":233,"y2":260},{"x":222,"y":207,"y2":303},{"x":227,"y":227,"y2":257},{"x":232,"y":230,"y2":277},{"x":235,"y":240,"y2":263},{"x":240,"y":223,"y2":267},{"x":256,"y":227,"y2":287},{"x":260,"y":233,"y2":300},{"x":266,"y":243,"y2":293},{"x":270,"y":267,"y2":320},{"x":274,"y":283,"y2":373},{"x":279,"y":317,"y2":367},{"x":285,"y":350,"y2":400},{"x":291,"y":367,"y2":440},{"x":295,"y":373,"y2":420},{"x":302,"y":383,"y2":425},{"x":308,"y":387,"y2":423},{"x":312,"y":390,"y2":423},{"x":320,"y":397,"y2":425},{"x":327,"y":400,"y2":437},{"x":333,"y":400,"y2":437},{"x":339,"y":390,"y2":433},{"x":342,"y":393,"y2":420},{"x":452,"y":237,"y2":283},{"x":456,"y":267,"y2":367},{"x":461,"y":300,"y2":400},{"x":465,"y":330,"y2":420},{"x":470,"y":370,"y2":450},{"x":474,"y":400,"y2":480},{"x":478,"y":433,"y2":523},{"x":484,"y":487,"y2":553},{"x":492,"y":467,"y2":583},{"x":497,"y":460,"y2":603},{"x":503,"y":527,"y2":627},{"x":507,"y":543,"y2":630},{"x":511,"y":550,"y2":643},{"x":515,"y":567,"y2":640},{"x":519,"y":513,"y2":620},{"x":562,"y":470,"y2":527},{"x":570,"y":513,"y2":573},{"x":578,"y":493,"y2":573},{"x":583,"y":490,"y2":540},{"x":587,"y":490,"y2":547},{"x":592,"y":503,"y2":550},{"x":600,"y":520,"y2":568},{"x":605,"y":540,"y2":580},{"x":612,"y":560,"y2":590},{"x":618,"y":570,"y2":610},{"x":625,"y":580,"y2":630},{"x":629,"y":620,"y2":687},{"x":634,"y":640,"y2":725},{"x":638,"y":640,"y2":705},{"x":642,"y":595,"y2":680},{"x":647,"y":595,"y2":678},{"x":652,"y":593,"y2":670},{"x":656,"y":610,"y2":680},{"x":659,"y":587,"y2":663},{"x":774,"y":300,"y2":393},{"x":778,"y":310,"y2":387},{"x":799,"y":277,"y2":373},{"x":803,"y":313,"y2":413},{"x":808,"y":315,"y2":453},{"x":812,"y":400,"y2":480},{"x":816,"y":400,"y2":470},{"x":817,"y":440,"y2":510},{"x":821,"y":473,"y2":530},{"x":825,"y":440,"y2":520},{"x":830,"y":503,"y2":600},{"x":837,"y":540,"y2":632},{"x":843,"y":560,"y2":603},{"x":847,"y":560,"y2":603},{"x":850,"y":567,"y2":617},{"x":854,"y":530,"y2":607},{"x":859,"y":483,"y2":613},{"x":863,"y":527,"y2":713},{"x":867,"y":560,"y2":742},{"x":872,"y":627,"y2":715},{"x":876,"y":547,"y2":677},{"x":948,"y":280,"y2":360},{"x":952,"y":297,"y2":380},{"x":957,"y":340,"y2":433},{"x":963,"y":400,"y2":467},{"x":968,"y":417,"y2":477},{"x":973,"y":433,"y2":508},{"x":977,"y":467,"y2":512},{"x":982,"y":453,"y2":500},{"x":987,"y":473,"y2":507},{"x":991,"y":483,"y2":497},{"x":995,"y":470,"y2":493},{"x":999,"y":462,"y2":493},{"x":1003,"y":442,"y2":523},{"x":1007,"y":463,"y2":517},{"x":1012,"y":447,"y2":490},{"x":1016,"y":448,"y2":493},{"x":1020,"y":457,"y2":487},{"x":1024,"y":460,"y2":483},{"x":1062,"y":417,"y2":477},{"x":1067,"y":430,"y2":490},{"x":1072,"y":440,"y2":477},{"x":1076,"y":463,"y2":483},{"x":1080,"y":467,"y2":483},{"x":1084,"y":470,"y2":487},{"x":1088,"y":473,"y2":487},{"x":1092,"y":473,"y2":485},{"x":1097,"y":475,"y2":487},{"x":1101,"y":477,"y2":488},{"x":1106,"y":477,"y2":487},{"x":1109,"y":480,"y2":487},{"x":1113,"y":470,"y2":495},{"x":1118,"y":475,"y2":502},{"x":1122,"y":477,"y2":513},{"x":1127,"y":480,"y2":505},{"x":1130,"y":477,"y2":505},{"x":1134,"y":483,"y2":507},{"x":1139,"y":493,"y2":517},{"x":1143,"y":500,"y2":520},{"x":1147,"y":513,"y2":530},{"x":1152,"y":517,"y2":533},{"x":1157,"y":500,"y2":537},{"x":1245,"y":278,"y2":340},{"x":1249,"y":327,"y2":393},{"x":1253,"y":343,"y2":395},{"x":1258,"y":357,"y2":413},{"x":1262,"y":367,"y2":432},{"x":1267,"y":258,"y2":413},{"x":1338,"y":50,"y2":117},{"x":1343,"y":83,"y2":117},{"x":1348,"y":97,"y2":132},{"x":1352,"y":113,"y2":140},{"x":1356,"y":128,"y2":153},{"x":1360,"y":135,"y2":155},{"x":1364,"y":143,"y2":160},{"x":1368,"y":145,"y2":163},{"x":1373,"y":147,"y2":160},{"x":1377,"y":121,"y2":153},{"x":1381,"y":115,"y2":140},{"x":1402,"y":117,"y2":140},{"x":1407,"y":123,"y2":143},{"x":1414,"y":132,"y2":147},{"x":1419,"y":137,"y2":150},{"x":1423,"y":143,"y2":163},{"x":1428,"y":147,"y2":202},{"x":1432,"y":158,"y2":207},{"x":1437,"y":163,"y2":187},{"x":1440,"y":145,"y2":185},{"x":1444,"y":150,"y2":168},{"x":1466,"y":163,"y2":177},{"x":1471,"y":167,"y2":195},{"x":1475,"y":163,"y2":195},{"x":1482,"y":163,"y2":177},{"x":1487,"y":165,"y2":180},{"x":1492,"y":165,"y2":183},{"x":1497,"y":172,"y2":183},{"x":1504,"y":167,"y2":197},{"x":1508,"y":177,"y2":202},{"x":1512,"y":177,"y2":203},{"x":1547,"y":150,"y2":192},{"x":1551,"y":163,"y2":175},{"x":1556,"y":157,"y2":190},{"x":1576,"y":100,"y2":200},{"x":1580,"y":112,"y2":197},{"x":1585,"y":130,"y2":182},{"x":1589,"y":117,"y2":183},{"x":1594,"y":157,"y2":173},{"x":1627,"y":120,"y2":145}],
"greenBars":[{"x":24,"x2":86,"y":398},{"x":440,"x2":505,"y":186},{"x":538,"x2":637,"y":383},{"x":783,"x2":867,"y":203},{"x":928,"x2":1007,"y":251},{"x":1052,"x2":1150,"y":392},{"x":1302,"x2":1431,"y":2},{"x":1560,"x2":1635,"y":52}],
"redBars":[{"x":0,"x2":26,"y":605},{"x":78,"x2":148,"y":627},{"x":287,"x2":446,"y":474},{"x":499,"x2":543,"y":684},{"x":632,"x2":790,"y":762},{"x":860,"x2":933,"y":790},{"x":1000,"x2":1058,"y":562},{"x":1144,"x2":1308,"y":546},{"x":1424,"x2":1567,"y":256}],
"greenTri":[{"x":38,"y":407},{"x":454,"y":197},{"x":551,"y":394},{"x":797,"y":214},{"x":942,"y":261},{"x":1065,"y":403},{"x":1315,"y":11},{"x":1574,"y":63}],
"greenTriSmall":[{"x":127,"y":487},{"x":568,"y":478},{"x":1065,"y":426}],
"yellowTri":[{"x":8,"y":618},{"x":94,"y":640},{"x":302,"y":486},{"x":513,"y":696},{"x":646,"y":774},{"x":1014,"y":574},{"x":1158,"y":558},{"x":1438,"y":268}],
"yellowTriSmall":[{"x":22,"y":556},{"x":251,"y":268},{"x":789,"y":381},{"x":874,"y":800},{"x":1277,"y":404},{"x":1393,"y":153},{"x":1457,"y":178},{"x":1523,"y":205},{"x":1566,"y":188},{"x":1604,"y":171}],
"txtYellow":[{"x":188,"y":83,"t":"平多"},{"x":257,"y":228,"t":"平多"},{"x":259,"y":268,"t":"开多"},{"x":451,"y":245,"t":"平多"},{"x":40,"y":453,"t":"平多"},{"x":31,"y":555,"t":"开多"},{"x":774,"y":307,"t":"平多"},{"x":799,"y":284,"t":"平多"},{"x":799,"y":382,"t":"开多"},{"x":948,"y":288,"t":"平多"},{"x":1247,"y":285,"t":"平多"},{"x":1287,"y":404,"t":"开多"},{"x":1338,"y":58,"t":"平多"},{"x":1403,"y":123,"t":"平多"},{"x":1402,"y":153,"t":"开多"},{"x":1462,"y":151,"t":"平多"},{"x":1465,"y":178,"t":"开多"},{"x":1532,"y":205,"t":"开多"},{"x":1547,"y":151,"t":"平多"},{"x":1575,"y":188,"t":"开多"},{"x":1576,"y":98,"t":"平多"},{"x":1613,"y":172,"t":"开多"},{"x":1628,"y":111,"t":"平多"}],
"txtGreen":[{"x":164,"y":13,"t":"平多"},{"x":728,"y":288,"t":"平多"},{"x":1207,"y":262,"t":"平多"},{"x":1303,"y":11,"t":"平多"},{"x":137,"y":488,"t":"开空"},{"x":578,"y":478,"t":"开空"},{"x":1079,"y":427,"t":"开空"}],
"txtOrange":[{"x":99,"y":565,"t":"平空"},{"x":133,"y":565,"t":"平空"},{"x":350,"y":427,"t":"平空"},{"x":523,"y":606,"t":"平空"},{"x":663,"y":659,"t":"平空"},{"x":881,"y":661,"t":"平空"},{"x":1028,"y":492,"t":"平空"},{"x":1160,"y":537,"t":"平空"}],
"txtMagenta":[{"x":277,"y":448,"t":"平空"},{"x":634,"y":773,"t":"平空"},{"x":1151,"y":556,"t":"平空"}],
"txtWhite":[{"x":1628,"y":224,"t":"平"},{"x":1307,"y":460,"t":"平"},{"x":910,"y":793,"t":"平"}]
},
"encoding":{"x":{"field":"x","type":"quantitative","scale":{"domain":[0,1761],"nice":false,"zero":false},"axis":{"title":null,"orient":"bottom","values":[116,506,897,1003,1287,1678,1761],"labelExpr":"datum.value==116?'02/05':datum.value==506?'02/06':datum.value==897?'02/07':datum.value==1003?'02/09':datum.value==1287?'02/10':datum.value==1678?'02/11':'15'","grid":false,"domain":false,"tickColor":"#c00000","tickSize":20,"tickWidth":1,"labelColor":"#c00000","labelFont":"Liberation Mono","labelFontSize":14,"labelAlign":"left","labelBaseline":"middle","labelPadding":-9,"labelOffset":2,"labelFlush":false,"labelOverlap":false,"labelBound":false}},
"y":{"field":"y","type":"quantitative","scale":{"domain":[806,0],"nice":false,"zero":false},"axis":{"title":null,"orient":"right","values":[224,472,720],"labelExpr":"'6'","grid":true,"gridColor":"#c00000","gridDash":[1,4],"gridWidth":1,"domainColor":"#c00000","domainWidth":1,"tickColor":"#c00000","tickSize":4,"tickWidth":1,"labelColor":"#c00000","labelFont":"Liberation Mono","labelFontSize":14,"labelPadding":8,"labelFlush":false,"labelOverlap":false,"labelBound":false}}},
"layer":[
{"data":{"values":[{"x":22,"y":88,"a":0,"b":1.5708}]},"mark":{"type":"arc","outerRadius":89,"innerRadius":86,"color":"#2a2a2a"},"encoding":{"theta":{"field":"a","type":"quantitative","scale":null},"theta2":{"field":"b"}}},
{"data":{"values":[{"x":22,"y":88,"a":0,"b":1.5708}]},"mark":{"type":"arc","outerRadius":56,"innerRadius":0,"color":"#101010"},"encoding":{"theta":{"field":"a","type":"quantitative","scale":null},"theta2":{"field":"b"}}},
{"data":{"values":[{"x":22,"y":88,"a":0,"b":0.49}]},"mark":{"type":"arc","outerRadius":75,"innerRadius":56,"color":"#33b533"},"encoding":{"theta":{"field":"a","type":"quantitative","scale":null},"theta2":{"field":"b"}}},
{"data":{"values":[{"x":22,"y":88,"a":0.49,"b":1.03}]},"mark":{"type":"arc","outerRadius":75,"innerRadius":56,"color":"#bdb52f"},"encoding":{"theta":{"field":"a","type":"quantitative","scale":null},"theta2":{"field":"b"}}},
{"data":{"values":[{"x":22,"y":88,"a":1.03,"b":1.5708}]},"mark":{"type":"arc","outerRadius":75,"innerRadius":56,"color":"#b53333"},"encoding":{"theta":{"field":"a","type":"quantitative","scale":null},"theta2":{"field":"b"}}},
{"data":{"values":[{"x":5,"y":72},{"x":5,"y":12},{"x":8,"y":5},{"x":14,"y":1},{"x":22,"y":0}]},"mark":{"type":"line","color":"#2a2a2a","strokeWidth":2.5,"orient":"vertical"},"encoding":{"order":{"field":"y","sort":"descending"}}},
{"data":{"values":[{"x":36,"x2":60,"y":103}]},"mark":{"type":"rule","color":"#2a2a2a","strokeWidth":2.5},"encoding":{"x2":{"field":"x2"}}},
{"data":{"values":[{"x":7,"y":101,"w":5},{"x":22,"y":88,"w":8},{"x":67,"y":43,"w":0.5}]},"mark":{"type":"trail","color":"#8a8a8a"},"encoding":{"size":{"field":"w","type":"quantitative","scale":null}}},
{"data":{"values":[{"x":22,"y":88}]},"mark":{"type":"point","filled":true,"shape":"circle","size":380,"color":"#d8d8d8","stroke":"#707070","strokeWidth":3}},
{"data":{"values":[{"x":15,"y":17,"t":"0"}]},"mark":{"type":"text","font":"Liberation Mono","fontSize":13,"color":"#555555","align":"center"},"encoding":{"text":{"field":"t"}}},
{"data":{"name":"outerTop"},"mark":{"type":"area","color":"#4a0000","interpolate":"monotone"},"encoding":{"y2":{"datum":797}}},
{"data":{"name":"outerTop"},"transform":[{"filter":"datum.x<=1340"}],"mark":{"type":"line","color":"#ff0000","strokeWidth":1,"strokeDash":[3,1],"interpolate":"monotone"}},
{"data":{"name":"midRed"},"mark":{"type":"line","color":"#ff0000","strokeWidth":2.5,"interpolate":"monotone"}},
{"data":{"name":"cloud"},"mark":{"type":"area"},"encoding":{"y2":{"datum":797},"detail":{"field":"s"},"color":{"field":"r","type":"nominal","scale":{"domain":["red","gray","green"],"range":["#660000","#585858","#003300"]},"legend":null}}},
{"data":{"name":"lowerWhite"},"mark":{"type":"area","color":"#003333","interpolate":"monotone"},"encoding":{"y2":{"datum":797}}},
{"data":{"name":"outerLow"},"mark":{"type":"area","color":"#000000","interpolate":"monotone"},"encoding":{"y2":{"datum":800}}},
{"data":{"name":"cloud"},"transform":[{"filter":"datum.x<=490||datum.x>=660"}],"mark":{"type":"line","color":"#ffffff","strokeWidth":1,"strokeDash":[2,1]},"encoding":{"detail":{"field":"s"}}},
{"data":{"name":"lowerWhite"},"transform":[{"filter":"datum.x<=115"}],"mark":{"type":"line","color":"#ffffff","strokeWidth":1,"strokeDash":[2,1],"interpolate":"monotone"}},
{"data":{"name":"lowerWhite"},"transform":[{"filter":"datum.x>=264&&datum.x<=640"}],"mark":{"type":"line","color":"#ffffff","strokeWidth":1,"strokeDash":[2,1],"interpolate":"monotone"}},
{"data":{"name":"lowerWhite"},"transform":[{"filter":"datum.x>=773&&datum.x<=1185"}],"mark":{"type":"line","color":"#ffffff","strokeWidth":1,"strokeDash":[2,1],"interpolate":"monotone"}},
{"data":{"name":"lowerWhite"},"transform":[{"filter":"datum.x>=1547"}],"mark":{"type":"line","color":"#ffffff","strokeWidth":1,"strokeDash":[4,2],"interpolate":"monotone"}},
{"data":{"name":"outerLow"},"transform":[{"filter":"datum.x<=494"}],"mark":{"type":"line","color":"#00ff00","strokeWidth":1,"strokeDash":[3,1],"interpolate":"monotone"}},
{"data":{"name":"outerLow"},"transform":[{"filter":"datum.x>=908"}],"mark":{"type":"line","color":"#00ff00","strokeWidth":1,"strokeDash":[3,1],"interpolate":"monotone"}},
{"data":{"name":"pinkDark"},"mark":{"type":"area","color":"#b86468"},"encoding":{"y2":{"field":"y2"},"detail":{"field":"s"}}},
{"data":{"name":"pinkLight"},"mark":{"type":"area","color":"#d08080"},"encoding":{"y2":{"field":"y2"},"detail":{"field":"s"}}},
{"data":{"name":"wedge"},"mark":{"type":"area","color":"#500000"},"encoding":{"y2":{"field":"y2"}}},
{"data":{"name":"darkTeal"},"mark":{"type":"area","color":"#006b6b"},"encoding":{"y2":{"field":"y2"},"detail":{"field":"s"}}},
{"data":{"name":"blue"},"mark":{"type":"area","color":"#3399ff"},"encoding":{"y2":{"field":"y2"},"detail":{"field":"s"}}},
{"data":{"name":"shadow"},"mark":{"type":"area","color":"#1c7f9c"},"encoding":{"y2":{"field":"y2"},"detail":{"field":"s"}}},
{"data":{"name":"midGreen"},"mark":{"type":"line","color":"#00ff00","strokeWidth":2.5,"interpolate":"monotone"}},
{"data":{"name":"down"},"mark":{"type":"rule","color":"#0000ff","strokeWidth":1.8},"encoding":{"y2":{"field":"y2"}}},
{"data":{"name":"up"},"mark":{"type":"rule","color":"#ff0000","strokeWidth":1.8},"encoding":{"y2":{"field":"y2"}}},
{"data":{"name":"darkRed"},"mark":{"type":"area","color":"#b30000","interpolate":"monotone"},"encoding":{"y2":{"field":"y2"},"detail":{"field":"s"}}},
{"data":{"name":"tealFill"},"mark":{"type":"area","color":"#008b8b","interpolate":"monotone"},"encoding":{"y2":{"field":"y2"},"detail":{"field":"s"}}},
{"data":{"name":"magenta"},"mark":{"type":"line","color":"#000000","strokeWidth":3,"interpolate":"monotone"},"encoding":{"detail":{"field":"s"}}},
{"data":{"name":"lime"},"mark":{"type":"line","color":"#000000","strokeWidth":3,"interpolate":"monotone"},"encoding":{"y":{"field":"y2","type":"quantitative"},"detail":{"field":"s"}}},
{"data":{"name":"darkRed"},"mark":{"type":"line","color":"#ffff00","strokeWidth":2.8,"interpolate":"monotone"},"encoding":{"y":{"field":"y2","type":"quantitative"},"detail":{"field":"s"}}},
{"data":{"name":"tealFill"},"mark":{"type":"line","color":"#00ff00","strokeWidth":2.8,"interpolate":"monotone"},"encoding":{"detail":{"field":"s"}}},
{"data":{"name":"lime"},"mark":{"type":"area","color":"#00ff00","interpolate":"monotone"},"encoding":{"y2":{"field":"y2"},"detail":{"field":"s"}}},
{"data":{"name":"magenta"},"mark":{"type":"area","color":"#ff00ff","interpolate":"monotone"},"encoding":{"y2":{"field":"y2"},"detail":{"field":"s"}}},
{"data":{"name":"txtGreen"},"mark":{"type":"text","color":"#00ff00"},"encoding":{"text":{"field":"t"}}},
{"data":{"name":"txtYellow"},"mark":{"type":"text","color":"#ffff00"},"encoding":{"text":{"field":"t"}}},
{"data":{"name":"txtOrange"},"mark":{"type":"text","color":"#ff8000"},"encoding":{"text":{"field":"t"}}},
{"data":{"name":"txtMagenta"},"mark":{"type":"text","color":"#ff00ff"},"encoding":{"text":{"field":"t"}}},
{"data":{"name":"txtWhite"},"mark":{"type":"text","color":"#ffffff"},"encoding":{"text":{"field":"t"}}},
{"data":{"name":"greenBars"},"mark":{"type":"rule","color":"#80ff80","strokeWidth":7,"strokeCap":"round"},"encoding":{"x2":{"field":"x2"}}},
{"data":{"name":"redBars"},"mark":{"type":"rule","color":"#ff0000","strokeWidth":7,"strokeCap":"round"},"encoding":{"x2":{"field":"x2"}}},
{"data":{"name":"greenTri"},"mark":{"type":"point","shape":"triangle-down","filled":true,"opacity":1,"size":320,"color":"#00e000"}},
{"data":{"name":"greenTriSmall"},"mark":{"type":"point","shape":"triangle-down","filled":true,"opacity":1,"size":130,"color":"#00e000"}},
{"data":{"name":"yellowTri"},"mark":{"type":"point","shape":"triangle-up","filled":true,"opacity":1,"size":361,"color":"#ffff00"}},
{"data":{"name":"yellowTriSmall"},"mark":{"type":"point","shape":"triangle-up","filled":true,"opacity":1,"size":144,"color":"#ffff00"}},
{"data":{"values":[{"x":505,"x2":1761,"y":800}]},"mark":{"type":"rule","color":"#2b2b2b","strokeWidth":6},"encoding":{"x2":{"field":"x2"}}},
{"data":{"values":[{"x":505,"x2":1761,"y":804.5}]},"mark":{"type":"rule","color":"#000000","strokeWidth":3},"encoding":{"x2":{"field":"x2"}}},
{"data":{"values":[{"x":0,"x2":1784,"y":806}]},"mark":{"type":"rule","color":"#d00000","strokeWidth":1.5},"encoding":{"x2":{"field":"x2"}}},
{"data":{"values":[{"x":1628,"x2":1761,"y":122}]},"mark":{"type":"rule","color":"#ffff00","strokeWidth":4},"encoding":{"x2":{"field":"x2"}}},
{"data":{"values":[{"x":1770,"x2":1784,"y":122}]},"mark":{"type":"rule","color":"#ffffff","strokeWidth":17},"encoding":{"x2":{"field":"x2"}}},
{"data":{"values":[{"x":1768,"y":122}]},"mark":{"type":"point","shape":"triangle-left","filled":true,"opacity":1,"size":289,"color":"#ffffff"}},
{"data":{"values":[{"x":1774,"y":122,"t":"6"}]},"mark":{"type":"text","font":"Liberation Mono","fontSize":14,"color":"#c00000"},"encoding":{"text":{"field":"t"}}},
{"data":{"values":[{"x":1628,"y":131,"t":"54.41"}]},"mark":{"type":"text","font":"Liberation Mono","fontSize":13,"color":"#ffff00"},"encoding":{"text":{"field":"t"}}},
{"data":{"values":[{"x":1627,"y":783,"t":"6分56秒"}]},"mark":{"type":"text","fontSize":14,"color":"#c8c8c8"},"encoding":{"text":{"field":"t"}}}
]}
